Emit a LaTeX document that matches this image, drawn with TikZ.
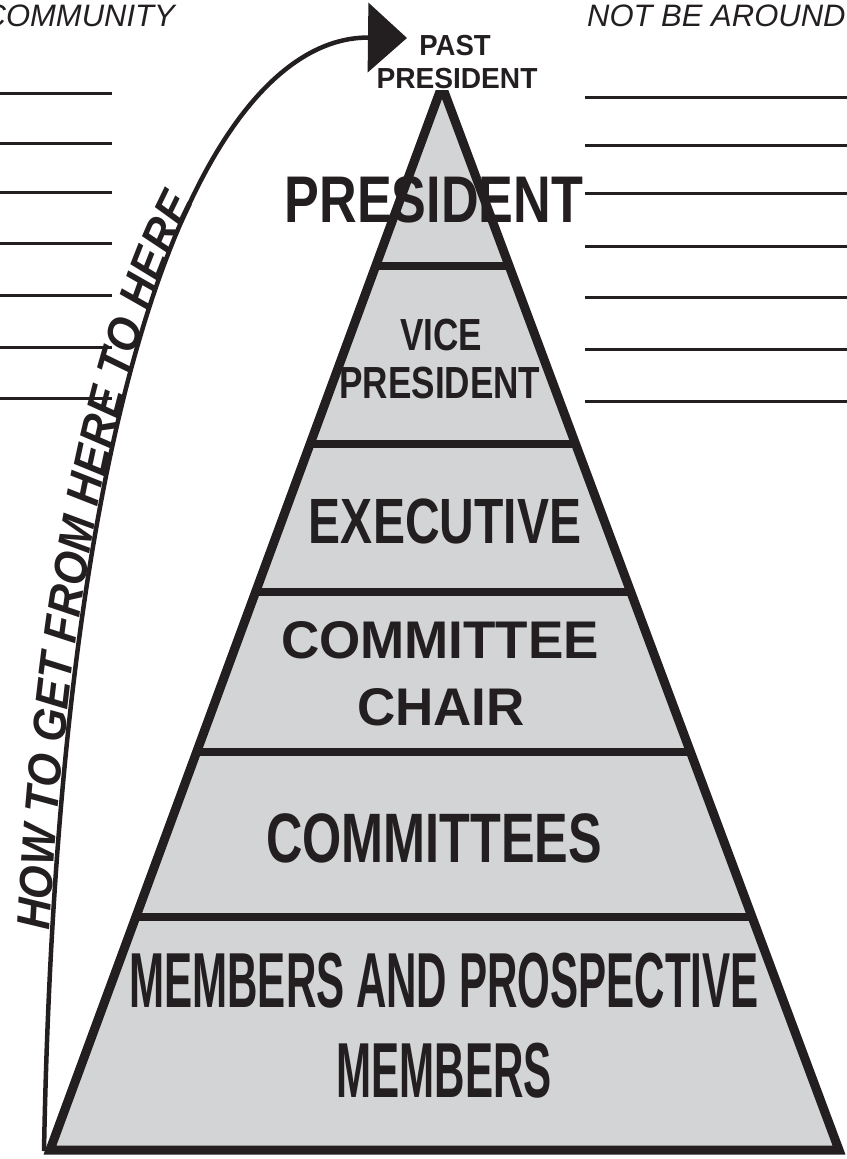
\documentclass[tikz,border=0pt]{standalone}
\usepackage{fontspec}
\setmainfont{Liberation Sans}
\usetikzlibrary{arrows.meta,calc,decorations.text}
\definecolor{ink}{RGB}{35,31,32}
\definecolor{stone}{RGB}{211,212,214}
\newcommand\tierfont[2]{\fontsize{#1}{#1}\selectfont\addfontfeatures{FakeStretch=#2}}
\newcommand\howfont{\bfseries\itshape\fontsize{47}{47}\selectfont\addfontfeatures{FakeStretch=0.91}}
\tikzset{
    tier/.style={anchor=base,inner sep=0pt,text=ink,font=\bfseries},
    note/.style={anchor=base,inner sep=0pt,text=ink,font=\itshape\fontsize{31}{31}\selectfont},
    blank/.style={ink,line width=3pt},
    divider/.style={ink,line width=7.5pt}
}
\begin{document}
\begin{tikzpicture}[x=1pt,y=-1pt]
            \useasboundingbox (0,0) rectangle (846,1159);
            % lines to fill in
            \foreach \y in {93,143,192,243,295,347,398}
                \draw[blank] (-5,\y) -- (112,\y);
            \foreach \y in {97,145,193,246,297,349,401}
                \draw[blank] (585,\y) -- (851,\y);
            \node[note,anchor=base east] (community) at (175,27) {COMMUNITY};
            \node[note,anchor=base west] (around) at (587,27) {NOT BE AROUND};
            % pyramid
            \coordinate (top) at (442,86);
            \coordinate (bl) at (50,1150);
            \coordinate (br) at (839,1150);
            \fill[stone] (top) -- (bl) -- (br) -- cycle;
            \foreach \f in {0.1692,0.3365,0.4756,0.6259,0.7810}
                \draw[divider] ($(top)!\f!(bl)$) -- ($(top)!\f!(br)$);
            \draw[ink,line width=9pt] (top) -- (bl) -- (br) -- cycle;
            % tiers
            \node[tier] (pres) at (434,222) {\tierfont{66}{0.79}PRESIDENT};
            \node[tier] (vice) at (441,350) {\tierfont{45}{0.78}VICE};
            \node[tier] (vicepres) at (440,398) {\tierfont{45}{0.78}PRESIDENT};
            \node[tier] (exec) at (445,543) {\tierfont{64}{0.75}EXECUTIVE};
            \node[tier] (chair1) at (440,658) {\tierfont{53}{1}COMMITTEE};
            \node[tier] (chair2) at (441,725) {\tierfont{53}{1}CHAIR};
            \node[tier] (cttees) at (434,862) {\tierfont{70}{0.72}COMMITTEES};
            \node[tier] (members1) at (444,1007) {\tierfont{78}{0.54}MEMBERS AND PROSPECTIVE};
            \node[tier] (members2) at (444,1097) {\tierfont{78}{0.54}MEMBERS};
            \node[tier] (past1) at (455,55) {\tierfont{29}{0.95}PAST};
            \node[tier,fill=white,inner sep=2pt] (past2) at (457,88) {\tierfont{29}{0.97}PRESIDENT};
            % climb
            \coordinate (start) at (44,1151);
            \coordinate (tip) at (407,38);
            \draw[ink,line width=4.5pt,-{Triangle[length=39pt,width=69pt]}]
                (start) .. controls (60,300) and (230,36) .. (tip);
            \path[decorate,decoration={text along path,text color=ink,raise=3pt,
                    text={|\howfont|HOW TO GET FROM HERE TO HERE},text align={left indent=220pt}}]
                (start) .. controls (60,300) and (230,36) .. (tip);
\end{tikzpicture}
\end{document}
